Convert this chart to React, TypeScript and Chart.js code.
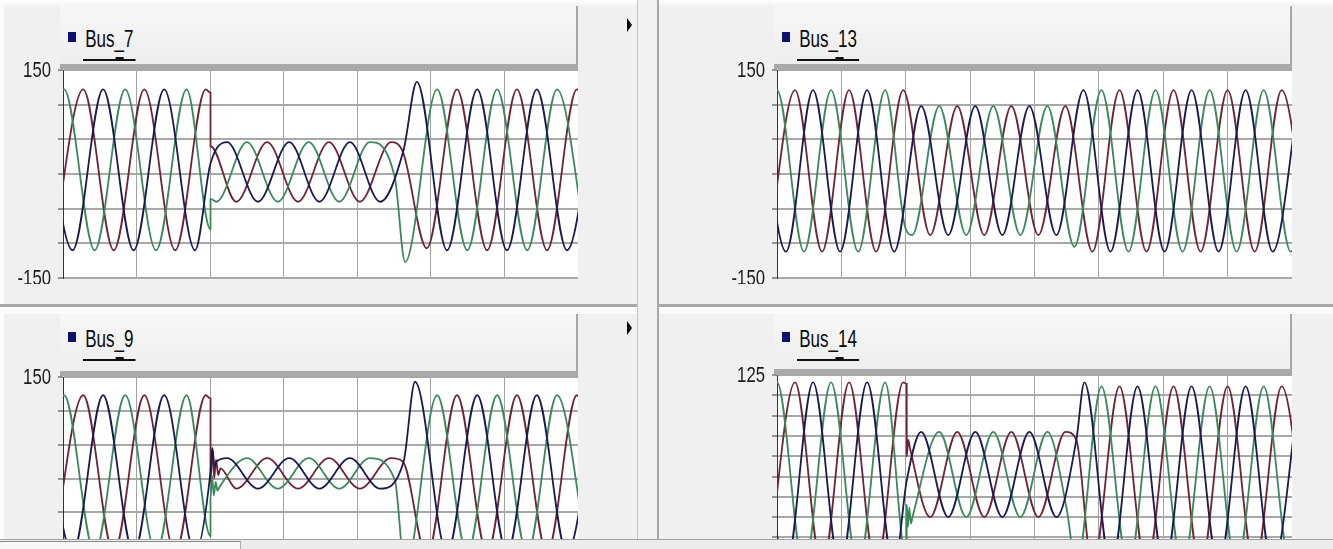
import React, { useEffect, useRef } from "react";
import { Chart, registerables } from "chart.js";

Chart.register(...registerables);

type Pt = [number, number];

// ---------- text ----------
const panelTitles = ["Bus_7", "Bus_13", "Bus_9", "Bus_14"];
const voltAxisLabels = ["150", "-150"];
const bus14AxisLabels = ["125", "-125"];

// ---------- series: [time ms, value] ----------
const bus7Blue: Pt[] = [[-5.7,122],[2.6,-110],[10.9,122],[19.2,-110],[27.5,122],[35.9,-110],[40.1,15],[44.6,46],[53.0,-40],[61.5,46],[69.7,-40],[78.0,46],[86.2,-40],[92.6,35],[96.2,133],[104.4,-110],[112.6,122],[120.7,-110],[128.8,122],[137.0,-110],[145.1,122]];
const bus7Green: Pt[] = [[-8.0,-110],[0.3,122],[8.6,-110],[16.9,122],[25.3,-110],[33.6,122],[40.1,-80],[40.1,-36],[41.7,-40],[50.0,46],[58.4,-40],[66.8,46],[75.1,-40],[83.4,46],[90.2,-5],[93.0,-127],[101.7,122],[109.9,-110],[118.0,122],[126.2,-110],[134.3,122],[142.5,-110]];
const bus7Red: Pt[] = [[-2.8,-110],[5.5,122],[13.8,-110],[22.1,122],[30.5,-110],[38.8,122],[40.1,117],[40.1,40],[47.1,-40],[55.5,46],[63.9,-40],[72.3,46],[80.7,-40],[89.2,46],[92.4,32],[98.9,-107],[107.1,122],[115.3,-110],[123.4,122],[131.6,-110],[139.7,122],[147.9,-110]];

const bus13Blue: Pt[] = [[-5.6,121],[2.8,-112],[11.2,121],[19.6,-112],[28.0,121],[36.4,-112],[44.8,98],[53.2,-88],[61.6,98],[70.0,-88],[78.4,98],[86.8,-88],[95.2,121],[103.6,-112],[112.0,121],[120.4,-112],[128.8,121],[137.2,-112],[145.6,121],[154.0,-112],[162.4,121]];
const bus13Green: Pt[] = [[-8.4,-112],[0.0,121],[8.4,-112],[16.8,121],[25.2,-112],[33.6,121],[39.9,-78],[42.0,-88],[50.4,98],[58.8,-88],[67.2,98],[75.6,-88],[84.0,98],[92.4,-105],[100.8,121],[109.2,-112],[117.6,121],[126.0,-112],[134.4,121],[142.8,-112],[151.2,121],[159.6,-112],[168.0,121]];
const bus13Red: Pt[] = [[-2.8,-112],[5.6,121],[14.0,-112],[22.4,121],[30.8,-112],[39.2,121],[47.6,-88],[56.0,98],[64.4,-88],[72.8,98],[81.2,-88],[89.6,98],[98.0,-112],[106.4,121],[114.8,-112],[123.2,121],[131.6,-112],[140.0,121],[148.4,-112],[156.8,121],[165.2,-112]];

const bus9Blue: Pt[] = [[-5.7,123],[2.6,-110],[10.9,123],[19.2,-110],[27.5,123],[35.9,-110],[40.1,10],[40.6,45],[41.2,18],[41.8,25],[44.6,30],[53.0,-15],[61.5,30],[69.7,-15],[78.0,30],[86.2,-15],[92.6,25],[95.7,143],[104.4,-110],[112.6,123],[120.7,-110],[128.8,123],[137.0,-110],[145.1,123]];
const bus9Green: Pt[] = [[-8.0,-110],[0.3,123],[8.6,-110],[16.9,123],[25.3,-110],[33.6,123],[40.1,-85],[40.1,-30],[40.5,5],[41.0,-25],[41.5,-5],[42.0,-18],[42.6,-12],[50.0,30],[58.4,-15],[66.8,30],[75.1,-15],[83.4,30],[90.2,-2],[93.0,-135],[101.7,123],[109.9,-110],[118.0,123],[126.2,-110],[134.3,123],[142.5,-110]];
const bus9Red: Pt[] = [[-2.8,-110],[5.5,123],[13.8,-110],[22.1,123],[30.5,-110],[38.8,123],[40.1,118],[40.1,-5],[40.6,45],[41.1,0],[41.6,28],[42.2,5],[42.8,15],[47.1,-15],[55.5,30],[63.9,-15],[72.3,30],[80.7,-15],[89.2,30],[92.4,25],[98.9,-115],[107.1,123],[115.3,-110],[123.4,123],[131.6,-110],[139.7,123],[147.9,-110]];

const bus14Blue: Pt[] = [[-5.6,116],[2.8,-114],[11.2,116],[19.6,-114],[28.0,116],[36.4,-114],[40.3,-5],[44.8,55],[53.2,-50],[61.6,55],[70.0,-50],[78.4,55],[86.8,-50],[93.0,45],[95.5,116],[103.8,-112],[112.0,111],[120.4,-112],[128.8,111],[137.2,-112],[145.6,111],[154.0,-112],[162.4,111]];
const bus14Green: Pt[] = [[-8.4,-114],[0.0,116],[8.4,-114],[16.8,116],[25.2,-114],[33.6,116],[40.3,-105],[40.3,-35],[40.7,-62],[41.1,-38],[41.6,-58],[42.2,-48],[50.4,55],[58.8,-50],[67.2,55],[75.6,-50],[84.0,55],[90.0,-40],[93.0,-112],[100.8,111],[109.2,-112],[117.6,111],[126.0,-112],[134.4,111],[142.8,-112],[151.2,111],[159.6,-112],[168.0,111]];
const bus14Red: Pt[] = [[-2.8,-114],[5.6,116],[14.0,-114],[22.4,116],[30.8,-114],[39.2,116],[40.3,114],[40.3,25],[40.8,45],[41.3,35],[47.6,-50],[56.0,55],[64.4,-50],[72.8,55],[81.2,-50],[89.6,55],[93.0,45],[98.0,-112],[106.4,111],[114.8,-112],[123.2,111],[131.6,-112],[140.0,111],[148.4,-112],[156.8,111],[165.2,-112]];

// ---------- axis ranges ----------
const leftTimeRange = [0, 140];
const rightTimeRange = [0, 160];
const timeStep = 20;
const voltRange = [-150, 150, 50];
const bus14Range = [-125, 125, 25];

// ---------- styling ----------
const COLORS = { blue: "#1a1a52", green: "#3b885b", red: "#6e2436" };
const FONT = '"Liberation Sans", Arial, sans-serif';

interface PanelCfg {
  title: string;
  plotLeft: number;
  plotTop: number;
  plotW: number;
  plotH: number;
  titleDy: number;
  boxTop: number;
  time: number[];
  volt: number[];
  labels: string[];
  blue: Pt[];
  green: Pt[];
  red: Pt[];
}

const panels: PanelCfg[] = [
  { title: panelTitles[0], plotLeft: 63, plotTop: 70, plotW: 515, plotH: 208, titleDy: 0, boxTop: 6, time: leftTimeRange, volt: voltRange, labels: voltAxisLabels, blue: bus7Blue, green: bus7Green, red: bus7Red },
  { title: panelTitles[1], plotLeft: 777, plotTop: 70, plotW: 515, plotH: 208, titleDy: 0, boxTop: 6, time: rightTimeRange, volt: voltRange, labels: voltAxisLabels, blue: bus13Blue, green: bus13Green, red: bus13Red },
  { title: panelTitles[2], plotLeft: 63, plotTop: 377, plotW: 515, plotH: 203, titleDy: 300, boxTop: 314, time: leftTimeRange, volt: voltRange, labels: voltAxisLabels, blue: bus9Blue, green: bus9Green, red: bus9Red },
  { title: panelTitles[3], plotLeft: 777, plotTop: 375, plotW: 515, plotH: 203, titleDy: 300, boxTop: 314, time: rightTimeRange, volt: bus14Range, labels: bus14AxisLabels, blue: bus14Blue, green: bus14Green, red: bus14Red },
];

const plotBg = {
  id: "plotBg",
  beforeDraw(chart: any) {
    const { ctx, chartArea: a } = chart;
    ctx.save();
    ctx.fillStyle = "#ffffff";
    ctx.fillRect(a.left, a.top, a.right - a.left, a.bottom - a.top);
    ctx.restore();
  },
};

const edgeLabels = {
  id: "edgeLabels",
  afterDraw(chart: any, _args: any, opts: any) {
    const ctx = chart.ctx;
    const y = chart.scales.y;
    ctx.save();
    ctx.font = `22px ${FONT}`;
    ctx.fillStyle = "#1a1a1a";
    ctx.textAlign = "right";
    ctx.textBaseline = "middle";
    const items: [number, string][] = opts.items || [];
    for (const [v, text] of items) {
      const py = y.getPixelForValue(v);
      ctx.save();
      ctx.translate(chart.chartArea.left - 12, py + 1);
      ctx.scale(0.76, 1);
      ctx.fillText(text, 0, 0);
      ctx.restore();
    }
    ctx.restore();
  },
};

const PAD_L = 63, PAD_R = 10, PAD_T = 8, PAD_B = 6;

function WaveChart({ p }: { p: PanelCfg }) {
  const ref = useRef<HTMLCanvasElement>(null);
  const w = PAD_L + p.plotW + PAD_R;
  const h = PAD_T + p.plotH + PAD_B;
  useEffect(() => {
    const mk = (pts: Pt[], color: string) => ({
      data: pts.map(([x, y]) => ({ x, y })),
      borderColor: color,
      borderWidth: 1.8,
      pointRadius: 0,
      fill: false,
      cubicInterpolationMode: "monotone" as const,
    });
    const xMax = p.time[1];
    const chart = new Chart(ref.current as HTMLCanvasElement, {
      type: "line",
      data: { datasets: [mk(p.blue, COLORS.blue), mk(p.green, COLORS.green), mk(p.red, COLORS.red)] as any },
      options: {
        animation: false,
        responsive: false,
        events: [],
        layout: { padding: { left: 0, right: PAD_R, top: PAD_T, bottom: PAD_B } },
        plugins: {
          legend: { display: false },
          tooltip: { enabled: false },
          edgeLabels: { items: [[p.volt[1], p.labels[0]], [p.volt[0], p.labels[1]]] },
        } as any,
        scales: {
          x: {
            type: "linear",
            min: p.time[0],
            max: xMax,
            ticks: { display: false, stepSize: timeStep },
            grid: {
              color: (c: any) => (c.tick && (c.tick.value <= p.time[0] || c.tick.value >= xMax) ? "rgba(0,0,0,0)" : "#a2a2a2"),
              lineWidth: 1,
              drawTicks: false,
            },
            border: { display: false },
            afterFit: (s: any) => { s.height = 0; },
          },
          y: {
            min: p.volt[0],
            max: p.volt[1],
            ticks: { display: false, stepSize: p.volt[2] },
            grid: { color: "#a8a8a8", lineWidth: 2, tickLength: 5, tickColor: "#3a3a3a", tickWidth: 1 },
            border: { display: true, color: "#333333", width: 1 },
            afterFit: (s: any) => { s.width = PAD_L; },
          },
        } as any,
      },
      plugins: [plotBg, edgeLabels],
    });
    return () => chart.destroy();
  }, []);
  return (
    <canvas
      ref={ref}
      width={w}
      height={h}
      style={{ position: "absolute", left: p.plotLeft - PAD_L, top: p.plotTop - PAD_T, width: w, height: h }}
    />
  );
}

function Panel({ p }: { p: PanelCfg }) {
  const bandTop = p.plotTop - 6;
  return (
    <>
      <div style={{ position: "absolute", left: p.plotLeft - 3, top: p.boxTop, width: p.plotW + 1, height: bandTop - p.boxTop, background: "linear-gradient(#f7f7f7, #eeeeee)", borderRight: "2px solid #a6a6a6" }} />
      <div style={{ position: "absolute", left: p.plotLeft - 3, top: bandTop, width: p.plotW + 3, height: 5, background: "#a9a9a9" }} />
      <WaveChart p={p} />
      <div style={{ position: "absolute", left: p.plotLeft + 5, top: 32 + p.titleDy, width: 8, height: 10, background: "#10106e" }} />
      <div
        style={{
          position: "absolute",
          left: p.plotLeft + 20,
          top: 28 + p.titleDy,
          transform: "scaleX(0.74)",
          transformOrigin: "0 0",
          font: `23px ${FONT}`,
          lineHeight: "23px",
          color: "#0a0a0a",
          whiteSpace: "nowrap",
          padding: "0 3px 8px 3px",
          borderBottom: "2px solid #111111",
        }}
      >
        {p.title}
        <span style={{ position: "absolute", left: "62%", bottom: 0, width: 11, height: 2, background: "#111111" }} />
      </div>
    </>
  );
}

function Tri({ left, top }: { left: number; top: number }) {
  return (
    <div style={{ position: "absolute", left, top, width: 0, height: 0, borderTop: "7px solid transparent", borderBottom: "7px solid transparent", borderLeft: "5px solid #000" }} />
  );
}

export default function App() {
  return (
    <div style={{ position: "fixed", left: 0, top: 0, width: 1333, height: 549, overflow: "hidden", background: "#f0f0f0", fontFamily: FONT }}>
      <div style={{ position: "absolute", left: 0, top: 0, width: 1333, height: 6, background: "linear-gradient(#ffffff, #f3f3f3)" }} />
      <div style={{ position: "absolute", left: 0, top: 0, width: 4, height: 549, background: "#fbfbfb" }} />
      {/* row divider */}
      <div style={{ position: "absolute", left: 0, top: 304, width: 1333, height: 3, background: "#a9a9a9" }} />
      <div style={{ position: "absolute", left: 0, top: 307, width: 1333, height: 7, background: "#fbfbfb" }} />
      {/* column divider */}
      <div style={{ position: "absolute", left: 637, top: 0, width: 1, height: 549, background: "#c4c4c4" }} />
      <div style={{ position: "absolute", left: 638, top: 0, width: 19, height: 549, background: "#f2f2f2" }} />
      <div style={{ position: "absolute", left: 657, top: 0, width: 2, height: 549, background: "#a8a8a8" }} />
      <Tri left={627} top={18} />
      <Tri left={627} top={321} />
      {panels.map((p) => (
        <Panel key={p.title} p={p} />
      ))}
      {/* bottom bar */}
      <div style={{ position: "absolute", left: 0, top: 539, width: 1333, height: 10, background: "#ececec", borderTop: "1px solid #a0a0a0" }} />
      <div style={{ position: "absolute", left: 0, top: 541, width: 240, height: 8, background: "#f8f8f8", borderTop: "1px solid #8a8a8a", borderRight: "1px solid #b0b0b0" }} />
    </div>
  );
}
